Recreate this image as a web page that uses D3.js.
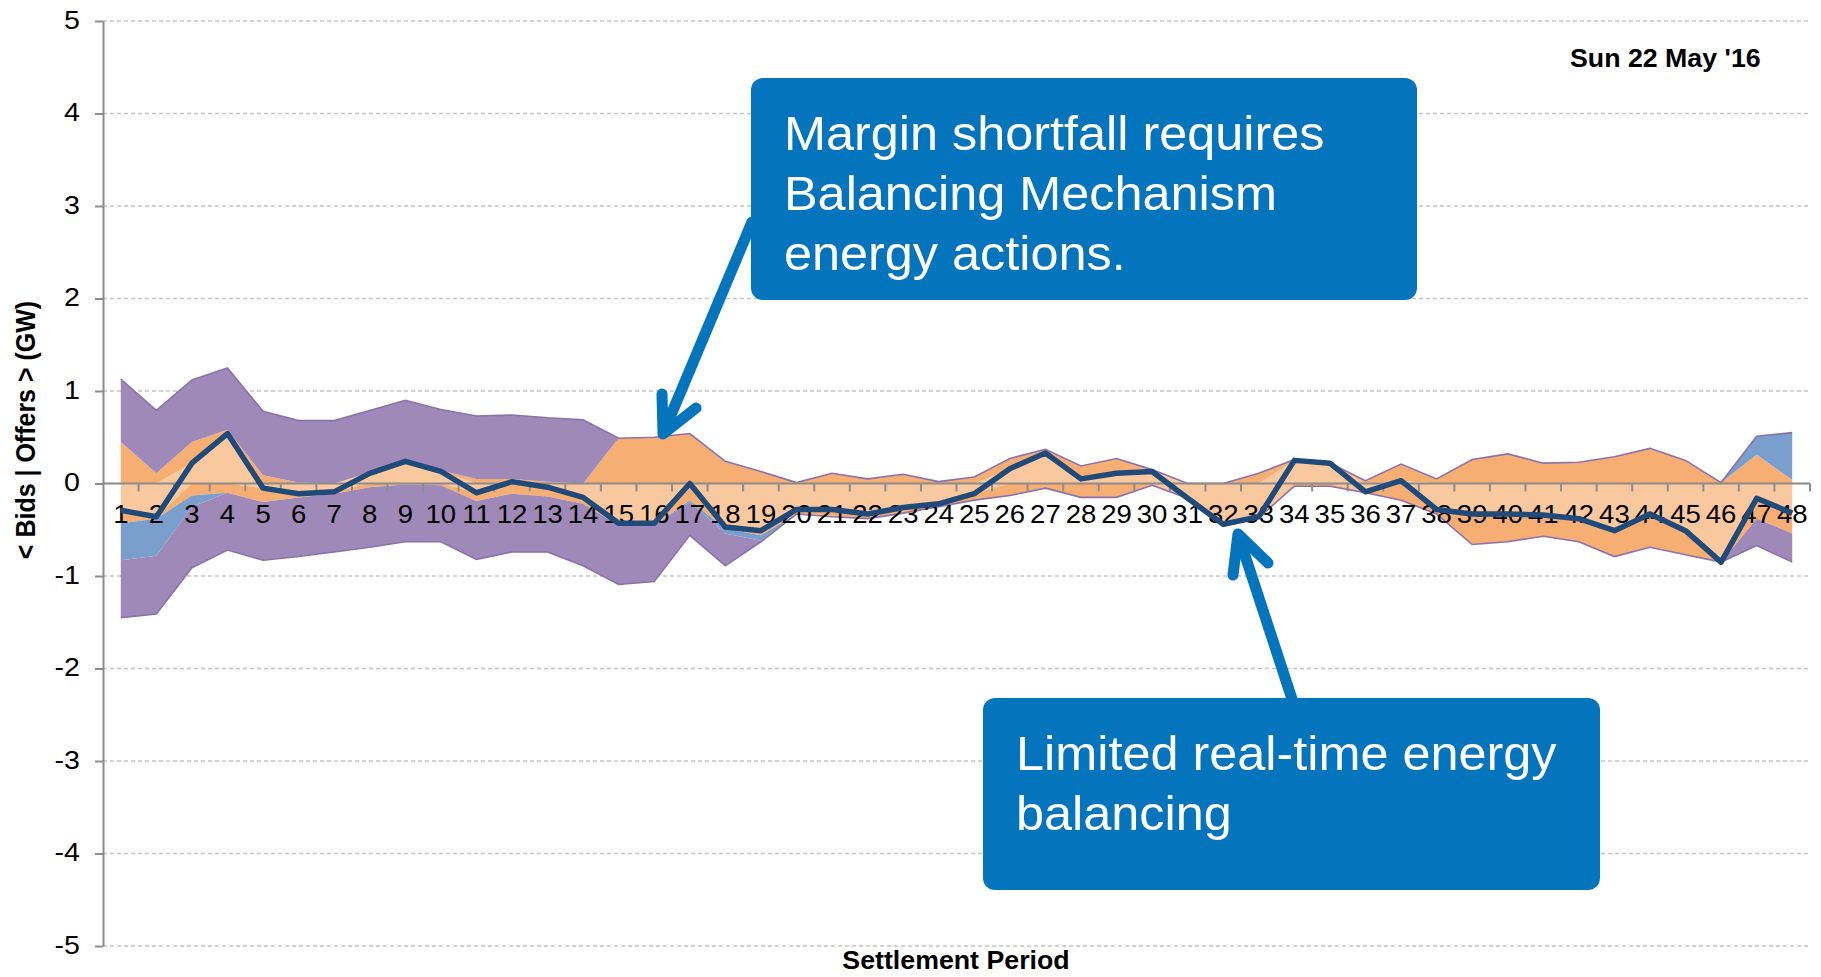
<!DOCTYPE html>
<html>
<head>
<meta charset="utf-8">
<title>Bids and offers</title>
<script src="https://d3js.org/d3.v7.min.js"></script>
<style>
  body { margin: 0; background: #fff; }
  svg { display: block; font-family: "Liberation Sans", Arial, sans-serif; }
</style>
</head>
<body>
<svg width="1821" height="977"></svg>
<script>
// settlement periods 1..48
const periods = [1,2,3,4,5,6,7,8,9,10,11,12,13,14,15,16,17,18,19,20,21,22,23,24,
                 25,26,27,28,29,30,31,32,33,34,35,36,37,38,39,40,41,42,43,44,45,46,47,48];
const yTicks = [-5,-4,-3,-2,-1,0,1,2,3,4,5];

// net imbalance line (GW)
const netLine = [
  -0.29,-0.36,0.22,0.54,-0.05,-0.11,-0.09,0.11,0.24,0.13,-0.10,0.02,
  -0.04,-0.15,-0.43,-0.43,0.00,-0.47,-0.51,-0.28,-0.28,-0.33,-0.26,-0.22,
  -0.11,0.16,0.33,0.05,0.11,0.13,-0.16,-0.44,-0.36,0.25,0.22,-0.09,
  0.03,-0.28,-0.33,-0.33,-0.34,-0.38,-0.51,-0.33,-0.51,-0.85,-0.16,-0.32];

// offers side, stacked upward
const peachUp = [
  0,0,0.22,0.54,0,0,0,0.11,0.24,0.13,0,0.02,
  0,0,0,0,0,0,0,0,0,0,0,0,
  0,0.16,0.33,0.05,0.11,0.13,0,0,0,0.25,0.22,0,
  0.03,0,0,0,0,0,0,0,0,0,0,0];
const orangeUp = [
  0.45,0.11,0.23,0.04,0.09,0.01,0,0.01,0.01,0.01,0.05,0.03,
  0.02,0,0.49,0.50,0.54,0.24,0.13,0.01,0.11,0.05,0.10,0.02,
  0.07,0.11,0.04,0.14,0.16,0.02,0,0,0.11,0.01,0,0.03,
  0.18,0.05,0.26,0.32,0.22,0.23,0.29,0.38,0.25,0.01,0.31,0.04];
const blueUp = [
  0,0,0,0,0,0,0,0,0,0,0,0,
  0,0,0,0,0,0,0,0,0,0,0,0,
  0,0,0,0,0,0,0,0,0,0,0,0,
  0,0,0,0,0,0,0,0,0,0,0.20,0.51];
const purpleUp = [
  0.68,0.68,0.67,0.67,0.69,0.67,0.68,0.67,0.65,0.66,0.68,0.69,
  0.69,0.69,0,0,0,0,0,0,0,0,0,0,
  0,0,0,0,0,0,0,0,0,0,0,0,
  0,0,0,0,0,0,0,0,0,0,0,0];

// bids side, stacked downward
const peachDown = [
  -0.29,-0.36,0,0,-0.05,-0.11,-0.09,0,0,0,-0.10,0,
  -0.04,-0.15,-0.43,-0.43,0,-0.47,-0.51,-0.28,-0.28,-0.33,-0.26,-0.22,
  -0.11,0,0,0,0,0,-0.16,-0.44,-0.36,0,0,-0.09,
  0,-0.28,-0.33,-0.33,-0.34,-0.38,-0.51,-0.33,-0.51,-0.85,-0.16,-0.32];
const orangeDown = [
  -0.14,-0.02,-0.13,-0.10,-0.15,-0.04,-0.02,-0.04,-0.01,-0.02,-0.09,-0.11,
  -0.10,-0.07,-0.02,-0.02,-0.18,-0.02,-0.05,-0.05,-0.08,-0.05,-0.06,-0.03,
  -0.07,-0.13,-0.05,-0.15,-0.15,-0.02,0,-0.02,-0.01,-0.03,-0.03,-0.01,
  -0.18,-0.05,-0.33,-0.30,-0.23,-0.25,-0.28,-0.36,-0.26,0,-0.22,-0.22];
const blueDown = [
  -0.40,-0.40,-0.12,0,0,0,0,0,0,0,0,0,
  0,0,0,0,-0.02,-0.05,-0.06,0,0,0,0,0,
  0,0,0,0,0,0,0,0,0,0,0,0,
  0,0,0,0,0,0,0,0,0,0,0,0];
const purpleDown = [
  -0.62,-0.63,-0.66,-0.62,-0.63,-0.64,-0.63,-0.65,-0.62,-0.61,-0.63,-0.63,
  -0.60,-0.67,-0.64,-0.61,-0.36,-0.35,-0.01,0,0,0,0,0,
  0,0,0,0,0,0,0,0,0,0,0,0,
  0,0,0,0,0,0,0,0,0,0,-0.29,-0.31];

const colors = { peach: "#fac89f", orange: "#f6ae73", blue: "#7a9fcc", purple: "#9f89b8" };

const rows = periods.map((p, i) => ({
  period: p,
  peachUp: peachUp[i], orangeUp: orangeUp[i], blueUp: blueUp[i], purpleUp: purpleUp[i],
  peachDown: peachDown[i], orangeDown: orangeDown[i], blueDown: blueDown[i], purpleDown: purpleDown[i]
}));

const svg = d3.select("svg");
const x = d3.scaleBand().domain(periods).range([103, 1810]);
const y = d3.scaleLinear().domain([-5, 5]).range([946, 21]);
const cx = p => x(p) + x.bandwidth() / 2;

// dashed gridlines
svg.append("g").selectAll("line").data(yTicks).join("line")
  .attr("x1", x.range()[0]).attr("x2", x.range()[1])
  .attr("y1", d => y(d)).attr("y2", d => y(d))
  .attr("stroke", "#c4c4c4").attr("stroke-width", 1.4).attr("stroke-dasharray", "4,3");

// stacked areas
const upStack = d3.stack().keys(["peachUp", "orangeUp", "blueUp", "purpleUp"])(rows);
const downStack = d3.stack().keys(["peachDown", "orangeDown", "blueDown", "purpleDown"])(rows);
const area = d3.area().x(d => cx(d.data.period)).y0(d => y(d[0])).y1(d => y(d[1]));
const keyColor = k => colors[k.replace(/Up|Down/, "")];

svg.append("g").selectAll("path").data(upStack.concat(downStack)).join("path")
  .attr("fill", d => keyColor(d.key))
  .attr("d", area);

// outer edge of the stacks
const edge = d3.line().x(d => cx(d.data.period)).y(d => y(d[1]));
svg.append("g").selectAll("path").data([upStack[3], downStack[3]]).join("path")
  .attr("fill", "none").attr("stroke", "#8b72ae").attr("stroke-width", 1.6)
  .attr("d", edge);

// zero axis with ticks between categories
svg.append("line")
  .attr("x1", x.range()[0]).attr("x2", x.range()[1])
  .attr("y1", y(0)).attr("y2", y(0))
  .attr("stroke", "#8c8c8c").attr("stroke-width", 2);
svg.append("g").selectAll("line").data(periods).join("line")
  .attr("x1", d => x(d) + x.step()).attr("x2", d => x(d) + x.step())
  .attr("y1", y(0)).attr("y2", y(0) + 8)
  .attr("stroke", "#8c8c8c").attr("stroke-width", 2);

// category labels
const xAxis = svg.append("g").attr("transform", `translate(0,${y(0)})`)
  .call(d3.axisBottom(x).tickSize(0).tickPadding(22));
xAxis.attr("font-family", null).attr("font-size", null);
xAxis.select(".domain").remove();
xAxis.selectAll("text").attr("font-size", 25).attr("fill", "#000")
  .attr("transform", "scale(1.1,1)");

// y axis
const yAxis = svg.append("g").attr("transform", `translate(${x.range()[0]},0)`)
  .call(d3.axisLeft(y).tickValues(yTicks).tickSize(8).tickSizeOuter(0)
    .tickPadding(15).tickFormat(d => String(d)));
yAxis.attr("font-family", null).attr("font-size", null);
yAxis.select(".domain").attr("stroke", "#8c8c8c").attr("stroke-width", 2);
yAxis.selectAll(".tick line").attr("stroke", "#8c8c8c").attr("stroke-width", 2);
yAxis.selectAll("text").attr("font-size", 26).attr("fill", "#000")
  .attr("x", -23 / 1.1).attr("dy", "0.28em")
  .attr("transform", "scale(1.1,1)");

// net line
svg.append("path").datum(netLine)
  .attr("fill", "none").attr("stroke", "#1f4a7a").attr("stroke-width", 5.5)
  .attr("stroke-linejoin", "round")
  .attr("d", d3.line().x((d, i) => cx(periods[i])).y(d => y(d)));

// titles
svg.append("text").attr("transform", "translate(35,430) scale(1.1,1) rotate(-90)")
  .attr("text-anchor", "middle").attr("font-weight", "bold").attr("font-size", 25)
  .text("< Bids | Offers > (GW)");
svg.append("text").attr("transform", "translate(956,969) scale(1.07,1)")
  .attr("text-anchor", "middle").attr("font-weight", "bold").attr("font-size", 25)
  .text("Settlement Period");
svg.append("text").attr("transform", "translate(1570,67) scale(1.07,1)")
  .attr("font-weight", "bold").attr("font-size", 25)
  .text("Sun 22 May '16");

// callouts
const blue = "#0474bd";
const arrows = [
  "M752,222 L663,434 M662,394 L663,434 L696,408",
  "M1292,699 L1238,534 M1233,575 L1238,534 L1268,563"
];
svg.append("g").selectAll("path").data(arrows).join("path")
  .attr("d", d => d).attr("fill", "none").attr("stroke", blue)
  .attr("stroke-width", 11).attr("stroke-linecap", "round").attr("stroke-linejoin", "round");

const boxes = [
  { x: 751, y: 78, w: 666, h: 222, lines: ["Margin shortfall requires", "Balancing Mechanism", "energy actions."], base: 150 },
  { x: 983, y: 698, w: 617, h: 192, lines: ["Limited real-time energy", "balancing"], base: 770 }
];
const box = svg.append("g").selectAll("g").data(boxes).join("g");
box.append("rect").attr("x", d => d.x).attr("y", d => d.y)
  .attr("width", d => d.w).attr("height", d => d.h).attr("rx", 12).attr("fill", blue);
box.each(function(d) {
  d3.select(this).selectAll("text").data(d.lines).join("text")
    .attr("transform", (t, i) => `translate(${d.x + 33},${d.base + i * 60}) scale(1.05,1)`)
    .attr("fill", "#fff").attr("font-size", 48)
    .text(t => t);
});
</script>
</body>
</html>
